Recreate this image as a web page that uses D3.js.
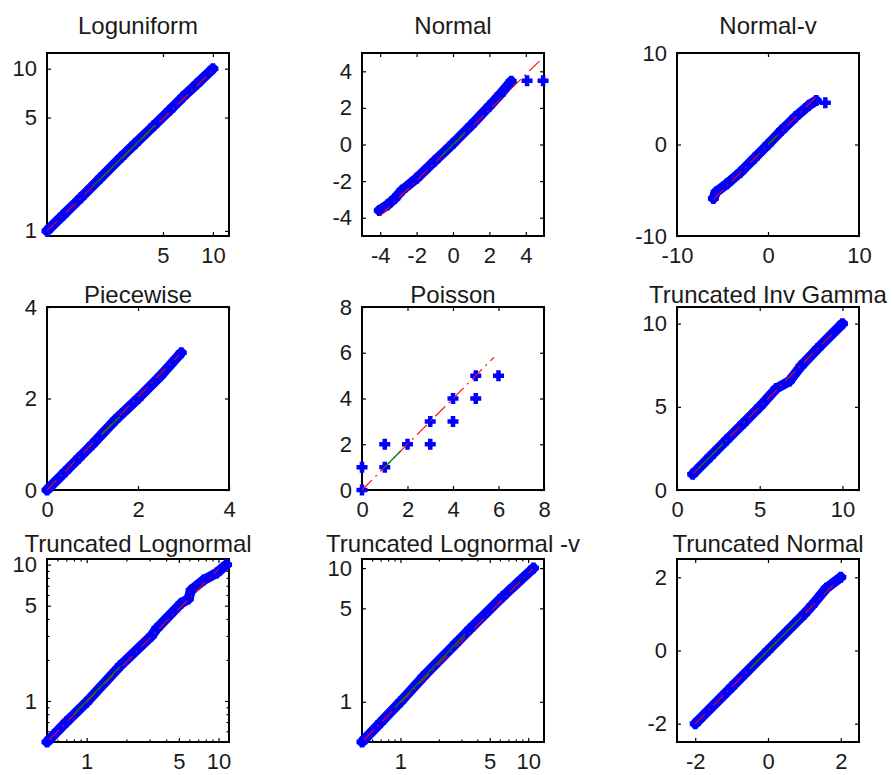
<!DOCTYPE html>
<html>
<head>
<meta charset="utf-8">
<script src="https://cdn.jsdelivr.net/npm/d3@7"></script>
<style>
  body { margin: 0; background: #fff; }
  svg { display: block; }
</style>
</head>
<body>
<div id="chart"></div>
<script>
// ---- data (sample quantiles vs. reference quantiles) ----
const titles = ['Loguniform', 'Normal', 'Normal-v', 'Piecewise', 'Poisson',
  'Truncated Inv Gamma', 'Truncated Lognormal', 'Truncated Lognormal -v', 'Truncated Normal'];

// Loguniform
const loguniformX = [1.0, 1.25, 1.6, 2.1, 2.8, 3.4, 4.4, 5.5, 6.6, 8.0, 10.0];
const loguniformY = [1.0, 1.25, 1.6, 2.12, 2.85, 3.45, 4.45, 5.55, 6.7, 8.05, 10.0];
const loguniformRef = [1, 1, 10, 9.8];
const loguniformMid = [1.9, 1.9, 4.5, 4.5];

// Normal
const normalX = [-4.05, -3.6, -3.2, -2.8, -2.0, -1.0, 0.0, 1.0, 2.0, 2.6, 3.2];
const normalY = [-3.6, -3.3, -2.95, -2.5, -1.85, -0.9, 0.05, 1.05, 2.1, 2.75, 3.45];
const normalOutX = [4.07, 4.95];
const normalOutY = [3.48, 3.48];
const normalRef = [-4.0, -3.9, 4.95, 4.75];
const normalMid = [-0.67, -0.67, 0.67, 0.67];

// Normal-v
const normalvX = [-6.0, -5.7, -4.5, -3.0, -1.5, 0.0, 1.5, 3.0, 4.5, 5.3];
const normalvY = [-5.9, -5.2, -4.3, -3.0, -1.5, 0.0, 1.55, 3.0, 4.3, 4.8];
const normalvOutX = [6.3];
const normalvOutY = [4.55];
const normalvRef = [-6, -6, 5.4, 5.3];
const normalvMid = [0, 0, 0.9, 0.9];

// Piecewise
const piecewiseX = [0.0, 0.4, 0.7, 1.0, 1.5, 2.0, 2.5, 2.95];
const piecewiseY = [0.0, 0.4, 0.7, 1.0, 1.53, 2.0, 2.5, 3.0];
const piecewiseRef = [0, 0, 2.9, 2.95];
const piecewiseMid = [1.2, 1.2, 1.6, 1.6];

// Poisson (discrete points, no band)
const poissonX = [0, 0, 1, 1, 2, 3, 3, 4, 4, 5, 5, 6];
const poissonY = [0, 1, 1, 2, 2, 2, 3, 3, 4, 4, 5, 5];
const poissonRef = [0, 0, 5.8, 5.8];
const poissonMid = [1, 1, 1.7, 1.7];

// Truncated Inv Gamma
const invGammaX = [0.95, 2.0, 3.0, 4.0, 5.0, 6.0, 6.8, 7.5, 8.5, 10.0];
const invGammaY = [0.95, 2.0, 3.0, 4.0, 5.0, 6.1, 6.55, 7.45, 8.5, 10.0];
const invGammaRef = [1, 1, 9.5, 9.5];
const invGammaMid = [1.3, 1.3, 2.8, 2.8];

// Truncated Lognormal
const lognormX = [0.5, 0.7, 1.0, 1.8, 3.1, 3.4, 5.2, 5.9, 6.2, 7.7, 9.7, 11.5];
const lognormY = [0.5, 0.7, 0.98, 1.82, 3.0, 3.4, 5.2, 5.6, 6.5, 7.7, 8.7, 10.0];
const lognormRef = [0.52, 0.52, 10, 9.3];
const lognormMid = [0.8, 0.8, 1.8, 1.8];

// Truncated Lognormal -v
const lognormvX = [0.5, 0.7, 1.0, 1.5, 2.7, 3.5, 6.3, 11.0];
const lognormvY = [0.5, 0.7, 1.0, 1.53, 2.72, 3.5, 6.1, 10.0];
const lognormvRef = [0.52, 0.52, 10.8, 9.8];
const lognormvMid = [0.9, 0.9, 3.2, 3.2];

// Truncated Normal
const truncNormX = [-2.0, -1.0, 0.0, 1.0, 1.2, 1.6, 2.0];
const truncNormY = [-2.0, -1.0, 0.0, 1.0, 1.22, 1.7, 2.0];
const truncNormRef = [-2, -2, 1.9, 1.9];
const truncNormMid = [-0.5, -0.5, 0.9, 0.9];

// axis limits and ticks
const logMinor = [0.6, 0.7, 0.8, 0.9, 2, 3, 4, 6, 7, 8, 9];
const xDomains = [[1, 12.5], [-5, 5], [-10, 10], [0, 4], [0, 8], [0, 11], [0.5, 12], [0.5, 13.3], [-2.5, 2.5]];
const yDomains = [[0.93, 12.5], [-5, 5], [-10, 10], [0, 4], [0, 8], [0, 11], [0.5, 11], [0.5, 11.7], [-2.5, 2.5]];
const xTicks = [[5, 10], [-4, -2, 0, 2, 4], [-10, 0, 10], [0, 2, 4], [0, 2, 4, 6, 8], [0, 5, 10], [1, 5, 10], [1, 5, 10], [-2, 0, 2]];
const yTicks = [[1, 5, 10], [-4, -2, 0, 2, 4], [-10, 0, 10], [0, 2, 4], [0, 2, 4, 6, 8], [0, 5, 10], [1, 5, 10], [1, 5, 10], [-2, 0, 2]];

// ---- panel table built from the arrays above ----
const panels = [
  { xs: loguniformX, ys: loguniformY, ox: [], oy: [], ref: loguniformRef, mid: loguniformMid, xLog: true, yLog: true, band: true },
  { xs: normalX, ys: normalY, ox: normalOutX, oy: normalOutY, ref: normalRef, mid: normalMid, band: true },
  { xs: normalvX, ys: normalvY, ox: normalvOutX, oy: normalvOutY, ref: normalvRef, mid: normalvMid, band: true },
  { xs: piecewiseX, ys: piecewiseY, ox: [], oy: [], ref: piecewiseRef, mid: piecewiseMid, band: true },
  { xs: poissonX, ys: poissonY, ox: [], oy: [], ref: poissonRef, mid: poissonMid, band: false },
  { xs: invGammaX, ys: invGammaY, ox: [], oy: [], ref: invGammaRef, mid: invGammaMid, band: true },
  { xs: lognormX, ys: lognormY, ox: [], oy: [], ref: lognormRef, mid: lognormMid, xLog: true, yLog: true, band: true, xMinor: true, yMinor: true },
  { xs: lognormvX, ys: lognormvY, ox: [], oy: [], ref: lognormvRef, mid: lognormvMid, xLog: true, yLog: true, band: true, xMinor: true },
  { xs: truncNormX, ys: truncNormY, ox: [], oy: [], ref: truncNormRef, mid: truncNormMid, band: true }
];

// ---- layout ----
const width = 892, height = 775;
const colLeft = [47, 362, 677];
const rowTop = [53, 307, 559];
const titleBase = [34, 303, 552];
const boxW = 182, boxH = 183;
const font = "'Liberation Sans', Arial, sans-serif";

const svg = d3.select('#chart').append('svg')
  .attr('width', width)
  .attr('height', height);

const fmt = d => String(d);

function styleAxis(sel) {
  sel.select('.domain').remove();
  sel.attr('font-family', font).attr('font-size', 22);
  sel.selectAll('line').attr('stroke', '#000').attr('stroke-width', 1.2);
  sel.selectAll('text').attr('fill', '#1a1a1a');
}

panels.forEach((p, i) => {
  const col = i % 3, row = Math.floor(i / 3);
  const left = colLeft[col], top = rowTop[row];

  const x = (p.xLog ? d3.scaleLog() : d3.scaleLinear()).domain(xDomains[i]).range([left, left + boxW]);
  const y = (p.yLog ? d3.scaleLog() : d3.scaleLinear()).domain(yDomains[i]).range([top + boxH, top]);

  const g = svg.append('g');

  // axes box
  g.append('rect')
    .attr('x', left).attr('y', top)
    .attr('width', boxW).attr('height', boxH)
    .attr('fill', 'none')
    .attr('stroke', '#000')
    .attr('stroke-width', 2);

  // ticks on all four sides, pointing inward
  g.append('g').attr('transform', `translate(0,${top + boxH})`)
    .call(d3.axisBottom(x).tickValues(xTicks[i]).tickSizeInner(-4).tickSizeOuter(0).tickPadding(11).tickFormat(fmt))
    .call(styleAxis);
  g.append('g').attr('transform', `translate(0,${top})`)
    .call(d3.axisTop(x).tickValues(xTicks[i]).tickSizeInner(-4).tickSizeOuter(0).tickFormat(''))
    .call(styleAxis);
  g.append('g').attr('transform', `translate(${left},0)`)
    .call(d3.axisLeft(y).tickValues(yTicks[i]).tickSizeInner(-4).tickSizeOuter(0).tickPadding(10).tickFormat(fmt))
    .call(styleAxis);
  g.append('g').attr('transform', `translate(${left + boxW},0)`)
    .call(d3.axisRight(y).tickValues(yTicks[i]).tickSizeInner(-4).tickSizeOuter(0).tickFormat(''))
    .call(styleAxis);

  // minor ticks on log axes
  if (p.xMinor) {
    g.append('g').attr('transform', `translate(0,${top + boxH})`)
      .call(d3.axisBottom(x).tickValues(logMinor).tickSizeInner(-2.5).tickSizeOuter(0).tickFormat(''))
      .call(styleAxis);
    g.append('g').attr('transform', `translate(0,${top})`)
      .call(d3.axisTop(x).tickValues(logMinor).tickSizeInner(-2.5).tickSizeOuter(0).tickFormat(''))
      .call(styleAxis);
  }
  if (p.yMinor) {
    g.append('g').attr('transform', `translate(${left},0)`)
      .call(d3.axisLeft(y).tickValues(logMinor).tickSizeInner(-2.5).tickSizeOuter(0).tickFormat(''))
      .call(styleAxis);
    g.append('g').attr('transform', `translate(${left + boxW},0)`)
      .call(d3.axisRight(y).tickValues(logMinor).tickSizeInner(-2.5).tickSizeOuter(0).tickFormat(''))
      .call(styleAxis);
  }

  const pts = d3.zip(p.xs, p.ys);
  const outs = d3.zip(p.ox, p.oy);

  // dense '+' markers merge into a thick band
  if (p.band) {
    g.append('path')
      .attr('d', d3.line().x(d => x(d[0])).y(d => y(d[1]))(pts))
      .attr('fill', 'none')
      .attr('stroke', '#0000ff')
      .attr('stroke-width', 10)
      .attr('stroke-linejoin', 'round')
      .attr('stroke-linecap', 'round');
  }
  g.selectAll('.mk')
    .data(pts.concat(outs))
    .join('path')
    .attr('class', 'mk')
    .attr('d', d => {
      const cx = x(d[0]), cy = y(d[1]);
      return `M${cx - 5.5},${cy}h11M${cx},${cy - 5.5}v11`;
    })
    .attr('stroke', '#0000ff')
    .attr('stroke-width', 4.5);

  // reference line (dash-dot) and quartile segment
  g.append('line')
    .attr('x1', x(p.ref[0])).attr('y1', y(p.ref[1]))
    .attr('x2', x(p.ref[2])).attr('y2', y(p.ref[3]))
    .attr('stroke', '#ff0000')
    .attr('stroke-width', 1.1)
    .attr('stroke-dasharray', '14,5,2,5');
  g.append('line')
    .attr('x1', x(p.mid[0])).attr('y1', y(p.mid[1]))
    .attr('x2', x(p.mid[2])).attr('y2', y(p.mid[3]))
    .attr('stroke', '#008000')
    .attr('stroke-width', 1.4);

  // title
  svg.append('text')
    .attr('x', left + boxW / 2)
    .attr('y', titleBase[row])
    .attr('text-anchor', 'middle')
    .attr('font-family', font)
    .attr('font-size', 24)
    .attr('fill', '#1a1a1a')
    .text(titles[i]);
});
</script>
</body>
</html>
